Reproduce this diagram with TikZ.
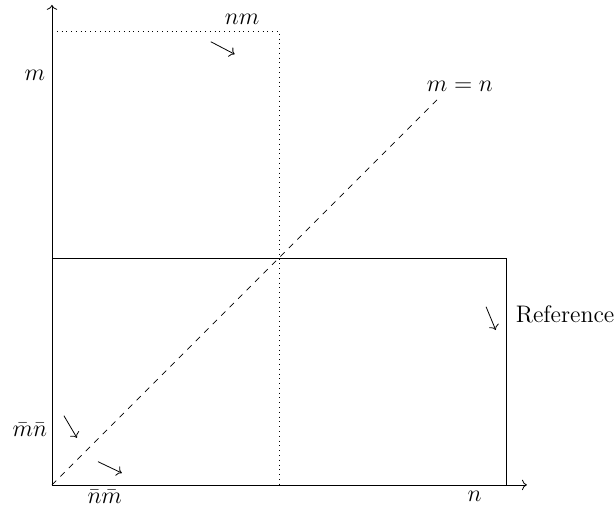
\documentclass[tikz,border=0pt]{standalone}
\usetikzlibrary{arrows.meta}
\begin{document}
\begin{tikzpicture}[
  every node/.style={font=\large},
  ax/.style={->},
  mark arrow/.style={->}]
\useasboundingbox (-0.916,-0.476) rectangle (9.94,8.546);
\coordinate (O) at (0,0);
\coordinate (X) at (8.37,0);
\coordinate (Y) at (0,8.46);
\draw[ax] (O) -- (X);
\draw[ax] (O) -- (Y);
\coordinate (d1) at (0,8);
\coordinate (d2) at (4,8);
\coordinate (d3) at (4,0);
\draw[dotted] (d1) -- (d2) -- (d3);
\coordinate (s1) at (0,4);
\coordinate (s2) at (8,4);
\coordinate (s3) at (8,0);
\draw (s1) -- (s2) -- (s3);
\coordinate (D) at (6.8,6.8);
\draw[dashed] (O) -- (D);
\node (lm) at (-0.3,7.22) {$m$};
\node (lnm) at (3.35,8.2) {$nm$};
\node (lmn) at (7.19,7.02) {$m=n$};
\node[anchor=west] (lref) at (8.05,3.0) {Reference};
\node (lbmn) at (-0.39,0.97) {$\bar m\bar n$};
\node (lbnm) at (0.93,-0.21) {$\bar n\bar m$};
\node (ln) at (7.45,-0.21) {$n$};
\coordinate (a1s) at (2.80,7.81); \coordinate (a1e) at (3.22,7.59);
\draw[mark arrow] (a1s) -- (a1e);
\coordinate (a2s) at (7.65,3.14); \coordinate (a2e) at (7.82,2.73);
\draw[mark arrow] (a2s) -- (a2e);
\coordinate (a3s) at (0.21,1.22); \coordinate (a3e) at (0.44,0.83);
\draw[mark arrow] (a3s) -- (a3e);
\coordinate (a4s) at (0.81,0.41); \coordinate (a4e) at (1.23,0.21);
\draw[mark arrow] (a4s) -- (a4e);
\end{tikzpicture}
\end{document}
